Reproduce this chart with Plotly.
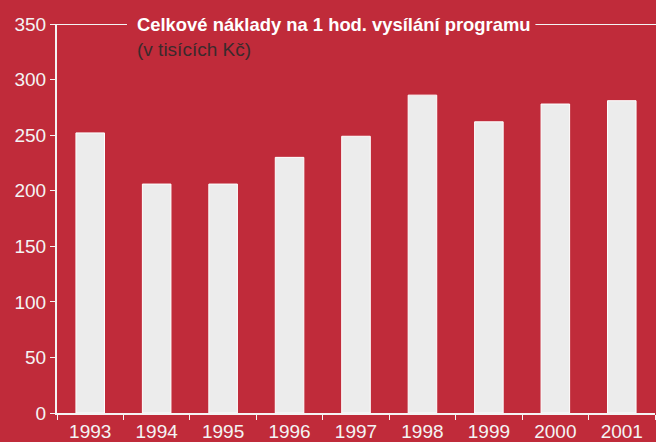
import plotly.graph_objects as go

years = ["1993", "1994", "1995", "1996", "1997", "1998", "1999", "2000", "2001"]
costs = [252, 206, 206, 230, 249, 286, 262, 278, 281]

title_text = "Celkové náklady na 1 hod. vysílání programu"
subtitle_text = "(v tisících Kč)"

bg = "#c02b3a"
fam = "Liberation Sans Narrow, Arial Narrow, Liberation Sans, Arial, sans-serif"

fig = go.Figure()
fig.add_trace(go.Bar(
    x=years, y=costs,
    marker=dict(color="#ececec", line=dict(color="#ffffff", width=1)),
    width=0.43,
))

fig.update_layout(
    width=656, height=442,
    margin=dict(l=57, r=1, t=24, b=29),
    paper_bgcolor=bg, plot_bgcolor=bg,
    showlegend=False,
    font=dict(family=fam, size=19, color="#f4f4f4"),
)

fig.update_xaxes(
    showline=True, linecolor="#f4f4f4", linewidth=2,
    ticks="outside", ticklen=5, tickcolor="#f4f4f4", tickson="boundaries",
    tickfont=dict(size=19, color="#f4f4f4"),
    showgrid=False, zeroline=False, automargin=False,
)
fig.update_yaxes(
    range=[0, 350], dtick=50,
    showline=True, linecolor="#f4f4f4", linewidth=2,
    ticks="outside", ticklen=5, tickcolor="#f4f4f4",
    tickfont=dict(size=19, color="#f4f4f4"),
    showgrid=False, zeroline=False, automargin=False,
)

# title lines along the top of the plot
fig.add_shape(type="line", xref="paper", yref="y", x0=0, x1=0.117, y0=350, y1=350,
              line=dict(color="#f4f4f4", width=2))
fig.add_shape(type="line", xref="paper", yref="y", x0=0.80, x1=1.01, y0=350, y1=350,
              line=dict(color="#f4f4f4", width=2))

fig.add_annotation(text="<b>" + title_text + "</b>", xref="paper", yref="y",
                   x=0.130, y=350, xanchor="left", yanchor="middle", showarrow=False,
                   font=dict(family=fam, size=18.4, color="#ffffff"))
fig.add_annotation(text=subtitle_text, xref="paper", yref="y",
                   x=0.130, y=327, xanchor="left", yanchor="middle", showarrow=False,
                   font=dict(family=fam, size=19, color="#3a2a2c"))

# page body has a default 8px margin; drop it so the figure sits at the corner
fig.write_html("out.html", config={"displayModeBar": False},
               post_script="document.body.style.margin='0';")
